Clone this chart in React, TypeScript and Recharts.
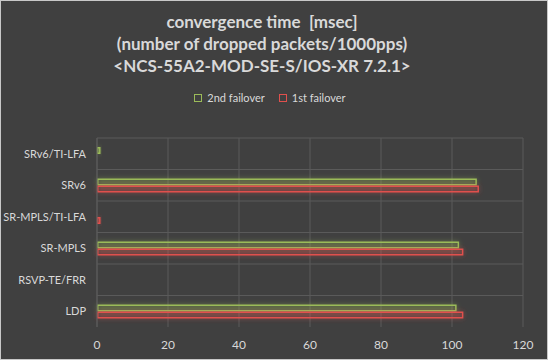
import React from 'react'
import { BarChart, Bar, XAxis, YAxis, CartesianGrid, Legend } from 'recharts'

// 카테고리 (위에서 아래 순서)
const categories = ['SRv6/TI-LFA', 'SRv6', 'SR-MPLS/TI-LFA', 'SR-MPLS', 'RSVP-TE/FRR', 'LDP']
const secondFailover = [1, 107, 0, 102, 0, 101.3]
const firstFailover = [0, 107.6, 1, 103.2, 0, 103.2]
const xTicks = [0, 20, 40, 60, 80, 100, 120]
const titleLines = ['convergence time  [msec]', '(number of dropped packets/1000pps)', '<NCS-55A2-MOD-SE-S/IOS-XR 7.2.1>']

const GREEN = '#9bbb59'
const RED = '#e0504d'
const TEXT = '#d9d9d9'
const GRID = '#5a5a5a'
const FONT = 'Lato, "Open Sans", sans-serif'

const data = categories.map((name, i) => ({
  name,
  second: secondFailover[i],
  first: firstFailover[i],
}))

const makeShape = (color: string, glowId: string) => (props: any) => {
  const { x, y, width, height } = props
  if (!width || width <= 0) return <g />
  return (
    <g>
      <rect x={x} y={y} width={width} height={height} fill={color} fillOpacity={0.4} filter={`url(#${glowId})`} />
      <rect x={x + 0.75} y={y + 0.75} width={Math.max(width - 1.5, 0)} height={height - 1.5} fill="none" stroke={color} strokeWidth={1.5} />
    </g>
  )
}

const LegendContent = () => (
  <div style={{ display: 'flex', justifyContent: 'center', gap: 14, fontFamily: FONT, fontSize: 11, color: TEXT }}>
    {[
      { label: '2nd failover', color: GREEN },
      { label: '1st failover', color: RED },
    ].map((it) => (
      <div key={it.label} style={{ display: 'flex', alignItems: 'center', gap: 5 }}>
        <span style={{ width: 6, height: 6, border: `1.5px solid ${it.color}`, display: 'inline-block' }} />
        <span>{it.label}</span>
      </div>
    ))}
  </div>
)

export default function App() {
  return (
    <div
      style={{
        position: 'relative',
        width: 548,
        height: 360,
        background: '#404040',
        boxShadow: 'inset 0 0 0 1px #c8c8c8',
        overflow: 'hidden',
      }}
    >
      <style>{`body{margin:0}`}</style>
      <div
        style={{
          position: 'absolute',
          top: 11,
          left: 0,
          width: 524,
          textAlign: 'center',
          fontFamily: FONT,
          fontWeight: 700,
          fontSize: 17,
          lineHeight: '22px',
          color: TEXT,
        }}
      >
        {titleLines.map((t) => (
          <div key={t} style={{ whiteSpace: 'pre' }}>{t}</div>
        ))}
      </div>
      <div style={{ position: 'absolute', top: 0, left: 0 }}>
        <BarChart
          width={548}
          height={360}
          data={data}
          layout="vertical"
          margin={{ top: 125, right: 25, bottom: 0, left: 0 }}
          barSize={7}
          barGap={0}
        >
          <defs>
            <filter id="glowG" x="-20%" y="-150%" width="140%" height="400%">
              <feGaussianBlur stdDeviation="2.5" />
            </filter>
            <filter id="glowR" x="-20%" y="-150%" width="140%" height="400%">
              <feGaussianBlur stdDeviation="2.5" />
            </filter>
          </defs>
          <CartesianGrid
            stroke={GRID}
            strokeWidth={1}
            horizontalCoordinatesGenerator={({ offset }: any) =>
              categories.map((_, i) => offset.top + (i * offset.height) / categories.length)
            }
          />
          <XAxis
            type="number"
            domain={[0, 120]}
            ticks={xTicks}
            axisLine={false}
            tickLine={false}
            height={33}
            tickMargin={7}
            tick={{ fill: TEXT, fontSize: 12, fontFamily: FONT }}
          />
          <YAxis
            type="category"
            dataKey="name"
            width={97}
            axisLine={{ stroke: GRID }}
            tickLine={false}
            tickMargin={5}
            tick={{ fill: TEXT, fontSize: 11, fontFamily: FONT }}
          />
          <Legend verticalAlign="top" content={<LegendContent />} wrapperStyle={{ top: 91, left: -4, width: 548 }} />
          <Bar dataKey="second" name="2nd failover" isAnimationActive={false} shape={makeShape(GREEN, 'glowG')} />
          <Bar dataKey="first" name="1st failover" isAnimationActive={false} shape={makeShape(RED, 'glowR')} />
        </BarChart>
      </div>
    </div>
  )
}
